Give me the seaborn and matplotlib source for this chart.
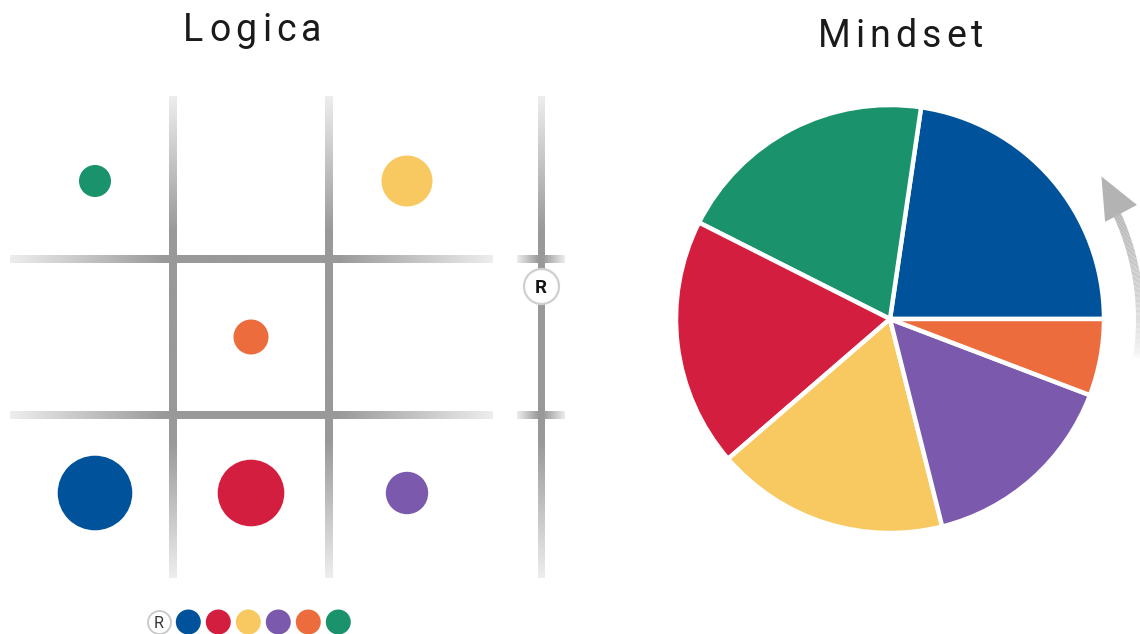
import numpy as np
import pandas as pd
import matplotlib
matplotlib.use("Agg")
import matplotlib.pyplot as plt
import seaborn as sns
from matplotlib.patches import Polygon
from matplotlib.collections import LineCollection

# ---------------- data ----------------
segment_names = ["Blue", "Red", "Yellow", "Purple", "Orange", "Green"]
segment_colors = ["#00539B", "#D41E3F", "#F8C861", "#7B59AD", "#EC6C3E", "#1A936C"]

# Logica grid: column / row of each dot and its weight (dot radius)
logica_col = [0, 1, 2, 2, 1, 0]
logica_row = [2, 2, 0, 2, 1, 0]
logica_weight = [37.3, 33.3, 25.5, 21.2, 17.5, 16.0]

# Mindset pie (counter-clockwise from 3 o'clock)
mindset_order = ["Blue", "Green", "Red", "Yellow", "Purple", "Orange"]
mindset_share = [22.7, 19.9, 18.8, 17.6, 15.3, 5.8]

titles = ["Logica", "Mindset"]
ref_label = "R"

# ---------------- style ----------------
sns.set_theme(style="white")
plt.rcParams["font.family"] = ["Roboto", "DejaVu Sans"]

W, H = 1140, 634
DPI = 100
fig = plt.figure(figsize=(W / DPI, H / DPI), dpi=DPI)
fig.patch.set_facecolor("white")
color_map = dict(zip(segment_names, segment_colors))
PT = 72 / DPI  # points per pixel

# ---------------- left panel: Logica ----------------
CELL = 156.0  # pixels per grid unit
ax = fig.add_axes([0, 0, 600 / W, 1])
ax.set_xlim(-95 / CELL, 505 / CELL)
ax.set_ylim((H - 181) / CELL, -181 / CELL)
ax.axis("off")


def grad_line(ax, x0, y0, x1, y1, lw_px, fade=0.3, dark=0.60, light=0.93, n=200):
    t = np.linspace(0, 1, n)
    k = np.clip(np.minimum(t, 1 - t) / fade, 0, 1)
    v = light + (dark - light) * k
    w = lw_px / CELL / 2
    if x0 == x1:  # vertical
        img = np.dstack([v[:, None]] * 3)
        ax.imshow(img, extent=[x0 - w, x0 + w, y1, y0], aspect="auto",
                  interpolation="bilinear", zorder=1)
    else:
        img = np.dstack([v[None, :]] * 3)
        ax.imshow(img, extent=[x0, x1, y0 + w, y0 - w], aspect="auto",
                  interpolation="bilinear", zorder=1)


v_top, v_bot = (97 - 181) / CELL, (578 - 181) / CELL
h_left, h_right = (10 - 95) / CELL, (493 - 95) / CELL
x_ref = (541 - 95) / CELL
for xv in (0.5, 1.5):
    grad_line(ax, xv, v_top, xv, v_bot, 8, fade=0.28)
grad_line(ax, x_ref, v_top, x_ref, v_bot, 7, fade=0.28)
for yh in (0.5, 1.5):
    grad_line(ax, h_left, yh, h_right, yh, 8, fade=0.32)
    grad_line(ax, (517 - 95) / CELL, yh, (565 - 95) / CELL, yh, 8, fade=0.45)

df = pd.DataFrame({
    "name": segment_names,
    "col": logica_col,
    "row": logica_row,
    "weight": logica_weight,
})
size_map = {n: (2 * r * PT) ** 2 for n, r in zip(df["name"], df["weight"])}
sns.scatterplot(data=df, x="col", y="row", hue="name", palette=color_map,
                size="name", sizes=size_map, linewidth=0, legend=False,
                ax=ax, zorder=3)

# reference marker on the right line
y_ref = (286 - 181) / CELL
ax.scatter([x_ref], [y_ref], s=(35 * PT) ** 2, facecolor="white",
           edgecolor="#cfcfcf", linewidth=1.6, zorder=4)
ax.text(x_ref, y_ref, ref_label, ha="center", va="center_baseline",
        fontsize=13.5, fontweight="bold", color="#151515", zorder=5)

# bottom colour key
y_key = (622 - 181) / CELL
x_r = (159 - 95) / CELL
ax.scatter([x_r], [y_key], s=(23 * PT) ** 2, facecolor="white",
           edgecolor="#c8c8c8", linewidth=1.3, zorder=4, clip_on=False)
ax.text(x_r, y_key, ref_label, ha="center", va="center_baseline",
        fontsize=11.5, color="#333333", zorder=5)
key_x = (188.3 - 95) / CELL + np.arange(len(segment_names)) * 30 / CELL
ax.scatter(key_x, [y_key] * len(segment_names), s=(25 * PT) ** 2,
           c=segment_colors, linewidth=0, zorder=4, clip_on=False)

ax.set_xlim(-95 / CELL, 505 / CELL)
ax.set_ylim((H - 181) / CELL, -181 / CELL)

# ---------------- right panel: Mindset ----------------
R_PX = 214.0
cx, cy = 890, 319
half = 240
axp = fig.add_axes([(cx - half) / W, (H - cy - half) / H, 2 * half / W, 2 * half / H])
axp.pie(mindset_share, colors=[color_map[n] for n in mindset_order],
        startangle=0, counterclock=True, radius=1,
        wedgeprops=dict(edgecolor="white", linewidth=3.2))
lim = half / R_PX
axp.set_xlim(-lim, lim)
axp.set_ylim(-lim, lim)
axp.axis("off")

# curved arrow around the pie
th = np.radians(np.linspace(-9, 25, 120))
rs = 250 / R_PX
pts = np.column_stack([rs * np.cos(th), rs * np.sin(th)])
segs = np.stack([pts[:-1], pts[1:]], axis=1)
thm = np.degrees((th[:-1] + th[1:]) / 2)
f = np.clip((thm + 9) / 33, 0, 1) ** 0.6
val = 0.71 + (1.0 - 0.71) * (1 - f)
lc = LineCollection(segs, colors=np.column_stack([val, val, val]),
                    linewidths=8 * PT, capstyle="butt", clip_on=False)
axp.add_collection(lc)


def polar(r_px, deg):
    return (r_px / R_PX * np.cos(np.radians(deg)), r_px / R_PX * np.sin(np.radians(deg)))


head = Polygon([polar(255, 34.0), polar(236, 24.3), polar(272, 24.8)],
               closed=True, facecolor="#b3b3b3", edgecolor="none", clip_on=False)
axp.add_patch(head)

# ---------------- titles with letter spacing ----------------
renderer = fig.canvas.get_renderer()


def spaced_title(s, cx_px, base_px, size, gap_px):
    texts, widths = [], []
    for ch in s:
        t = fig.text(0, 0, ch, fontsize=size, color="#1a1a1a",
                     ha="left", va="baseline")
        widths.append(t.get_window_extent(renderer).width)
        texts.append(t)
    total = sum(widths) + gap_px * (len(s) - 1)
    x = cx_px - total / 2
    for t, w in zip(texts, widths):
        t.set_position((x / W, 1 - base_px / H))
        x += w + gap_px


spaced_title(titles[0], 252.5, 41, 27, 5.3)
spaced_title(titles[1], 900.5, 46.7, 27, 5.0)

fig.savefig("out.png", dpi=DPI, facecolor="white")
